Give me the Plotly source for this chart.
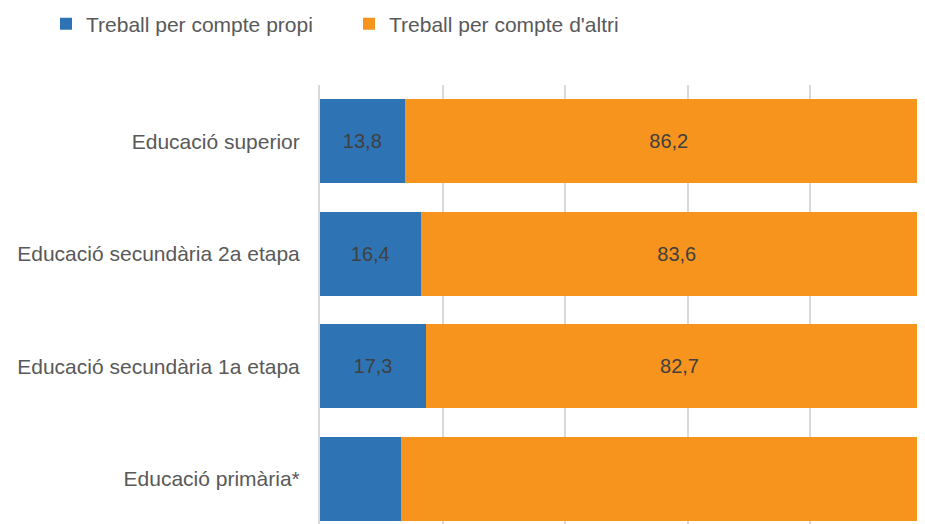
import plotly.graph_objects as go

# ── DATA ──────────────────────────────────────────────────────────────────────

categories = [
    "Educació superior",
    "Educació secundària 2a etapa",
    "Educació secundària 1a etapa",
    "Educació primària*",
]
propi = [13.8, 16.4, 17.3, 13.2]
altri = [86.2, 83.6, 82.7, 86.8]
propi_labels = ["13,8", "16,4", "17,3", ""]
altri_labels = ["86,2", "83,6", "82,7", ""]

BLUE = "#2E74B5"
ORANGE = "#F7941E"
FONT = "Arial, Liberation Sans, sans-serif"

W, H = 917, 516

# ── CHART ─────────────────────────────────────────────────────────────────────

fig = go.Figure()
fig.add_trace(go.Bar(
    y=categories, x=propi, orientation="h",
    name="Treball per compte propi", legend="legend", showlegend=True,
    marker=dict(color=BLUE, line=dict(width=0)),
    text=propi_labels, textposition="inside", insidetextanchor="middle",
    textfont=dict(color="#404040", size=20, family=FONT),
))
fig.add_trace(go.Bar(
    y=categories, x=altri, orientation="h",
    name="Treball per compte d'altri", legend="legend2", showlegend=True,
    marker=dict(color=ORANGE, line=dict(width=0)),
    text=altri_labels, textposition="inside", insidetextanchor="middle",
    textfont=dict(color="#404040", size=20, family=FONT),
))

legend_style = dict(
    orientation="h", xref="container", yref="container",
    xanchor="left", yanchor="middle", y=1 - 16 / H,
    font=dict(size=21, color="#595959"), itemwidth=30,
    bgcolor="rgba(0,0,0,0)", visible=True,
)

fig.update_layout(
    width=W, height=H, showlegend=True,
    barmode="stack", bargap=0.254,
    plot_bgcolor="white", paper_bgcolor="white",
    margin=dict(l=312, r=0, t=77, b=0),
    font=dict(family=FONT, size=21, color="#595959"),
    legend=dict(legend_style, x=38 / W),
    legend2=dict(legend_style, x=341 / W),
    uniformtext=dict(mode="show", minsize=20),
)
fig.update_xaxes(
    range=[0, 98.7], dtick=20, showticklabels=False,
    showgrid=True, gridcolor="#D9D9D9", gridwidth=2,
    zeroline=False, showline=False, fixedrange=True,
)
fig.update_yaxes(
    type="category", categoryorder="array", categoryarray=categories,
    range=[3.4, -0.5],
    showline=True, linecolor="#D9D9D9", linewidth=2,
    ticks="", ticklabelstandoff=14,
    tickfont=dict(size=21, color="#595959"),
    showgrid=False,
)

fig.write_html("out.html")
